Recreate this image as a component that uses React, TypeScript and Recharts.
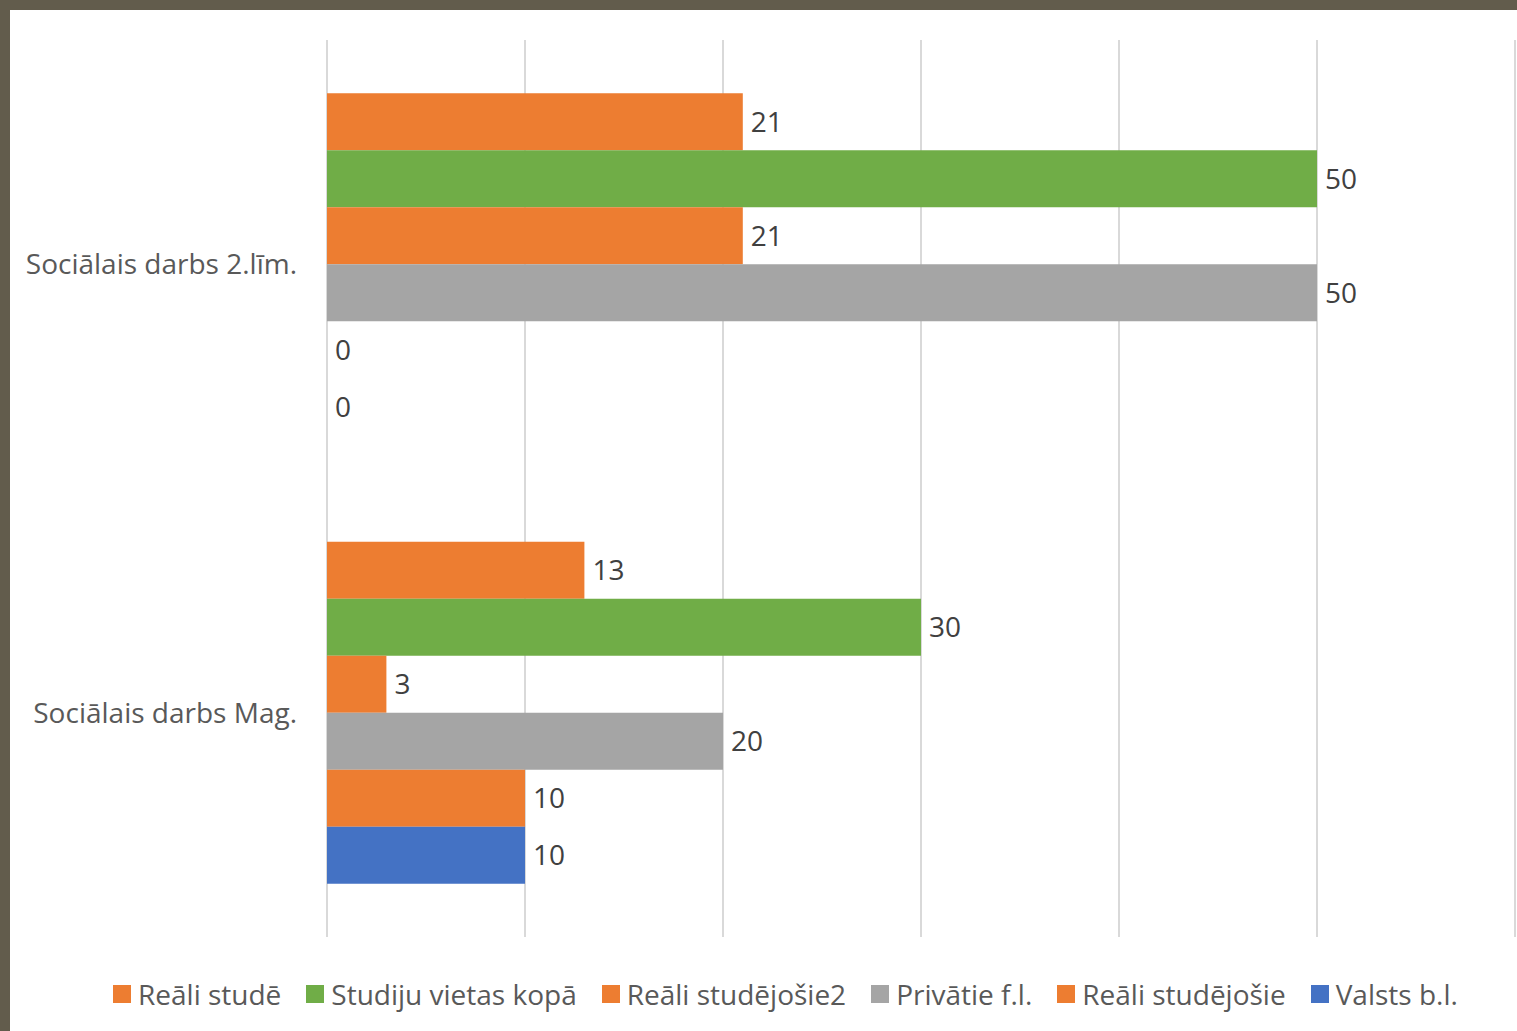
import { Bar, BarChart, CartesianGrid, LabelList, Legend, XAxis, YAxis } from 'recharts';

// Two programmes, six series
const programmes = ['Sociālais darbs 2.līm.', 'Sociālais darbs Mag.'];
const realiStude = [21, 13];
const studijuVietasKopa = [50, 30];
const realiStudejosie2 = [21, 3];
const privatieFl = [50, 20];
const realiStudejosie = [0, 10];
const valstsBl = [0, 10];
const xTicks = [0, 10, 20, 30, 40, 50, 60];

const series = [
  { key: 'realiStude', name: 'Reāli studē', color: '#ED7D31' },
  { key: 'studijuVietasKopa', name: 'Studiju vietas kopā', color: '#70AD47' },
  { key: 'realiStudejosie2', name: 'Reāli studējošie2', color: '#ED7D31' },
  { key: 'privatieFl', name: 'Privātie f.l.', color: '#A5A5A5' },
  { key: 'realiStudejosie', name: 'Reāli studējošie', color: '#ED7D31' },
  { key: 'valstsBl', name: 'Valsts b.l.', color: '#4472C4' },
];

const data = programmes.map((name, i) => ({
  name,
  realiStude: realiStude[i],
  studijuVietasKopa: studijuVietasKopa[i],
  realiStudejosie2: realiStudejosie2[i],
  privatieFl: privatieFl[i],
  realiStudejosie: realiStudejosie[i],
  valstsBl: valstsBl[i],
}));

const FONT = '"Open Sans", Lato, sans-serif';

function LegendRow() {
  return (
    <div
      style={{
        height: 94,
        display: 'flex',
        alignItems: 'center',
        paddingTop: 20,
        paddingLeft: 103,
        boxSizing: 'border-box',
        fontFamily: FONT,
        fontSize: 28,
        color: '#595959',
        whiteSpace: 'nowrap',
      }}
    >
      {series.map((s) => (
        <span key={s.key} style={{ display: 'inline-flex', alignItems: 'center', marginRight: 25 }}>
          <span style={{ width: 18, height: 18, background: s.color, marginRight: 7, display: 'inline-block' }} />
          {s.name}
        </span>
      ))}
    </div>
  );
}

export default function App() {
  return (
    <div
      style={{
        position: 'absolute',
        left: 0,
        top: 0,
        width: 1517,
        height: 1031,
        background: '#625C4C',
      }}
    >
      <div style={{ position: 'absolute', left: 10, top: 10, width: 1507, height: 1021, background: '#fff' }}>
        <BarChart
          width={1507}
          height={1021}
          data={data}
          layout="vertical"
          margin={{ top: 30, right: 2, left: 0, bottom: 0 }}
          barCategoryGap="11.9%"
          barGap={0}
        >
          <CartesianGrid horizontal={false} stroke="#D9D9D9" strokeWidth={2} />
          <XAxis
            type="number"
            domain={[0, 60]}
            ticks={xTicks}
            interval={0}
            tick={{ fill: 'transparent', fontSize: 1 }}
            axisLine={false}
            tickLine={false}
            height={0}
          />
          <YAxis
            type="category"
            dataKey="name"
            width={317}
            axisLine={false}
            tickLine={false}
            tickSize={6}
            tickMargin={24}
            tick={{ fill: '#595959', fontSize: 28, fontFamily: FONT }}
          />
          <Legend verticalAlign="bottom" content={() => <LegendRow />} />
          {series.map((s) => (
            <Bar
              key={s.key}
              dataKey={s.key}
              name={s.name}
              fill={s.color}
              minPointSize={(v: number) => (v === 0 ? 0.001 : 0)}
              isAnimationActive={false}
            >
              <LabelList
                dataKey={s.key}
                position="right"
                offset={8}
                fill="#404040"
                fontSize={28}
                fontFamily={FONT}
              />
            </Bar>
          ))}
        </BarChart>
      </div>
    </div>
  );
}
